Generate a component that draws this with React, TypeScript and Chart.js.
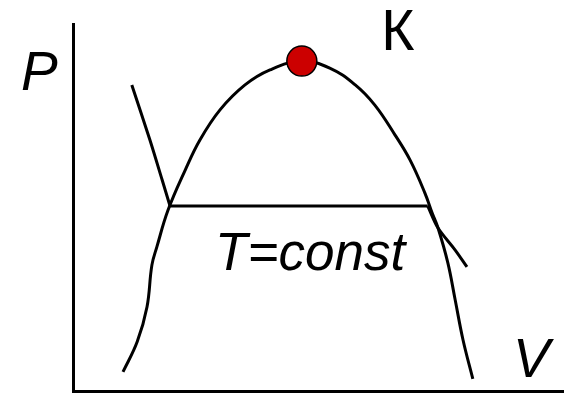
import React, { useEffect, useRef } from "react";
import { Chart, registerables } from "chart.js";

Chart.register(...registerables);

// Binodal (saturation dome) in V–P units
const domeV = [1.02, 1.31, 1.51, 1.61, 1.71, 1.94, 2.29, 2.59, 3.0, 3.51, 4.02, 4.67, 5.24, 5.76, 6.16, 6.57, 6.88, 7.18, 7.33, 7.45, 7.65, 7.8, 7.96, 8.16];
const domeP = [0.52, 1.34, 2.29, 3.43, 3.92, 4.93, 6.02, 6.84, 7.66, 8.34, 8.75, 8.99, 8.8, 8.34, 7.79, 6.98, 6.29, 5.4, 4.85, 4.44, 3.49, 2.48, 1.39, 0.33];

// Isotherm T=const: liquid branch, plateau, gas branch
const isoLeftV = [1.2, 1.57, 1.82, 1.98];
const isoLeftP = [8.34, 6.84, 5.75, 5.04];
const plateauV = [1.98, 7.24];
const plateauP = [5.04, 5.04];
const isoRightV = [7.24, 7.45, 7.8, 8.04];
const isoRightP = [5.04, 4.44, 3.84, 3.38];

// Critical point K
const critV = [4.67];
const critP = [8.99];

// Text labels
const labelText = ["К", "P", "V", "T=const"];
const labelV = [6.29, -1.06, 8.98, 2.9];
const labelP = [9.29, 8.2, 0.38, 3.3];
const labelFont = [
  "normal 57px 'Liberation Sans'",
  "italic 55px 'Liberation Sans'",
  "italic 55px 'Liberation Sans'",
  "italic 53px 'Liberation Sans'",
];

const pts = (xs: number[], ys: number[]) => xs.map((x, i) => ({ x, y: ys[i] }));

const labelsPlugin = {
  id: "labels",
  afterDatasetsDraw(chart: any) {
    const { ctx, scales } = chart;
    ctx.save();
    ctx.fillStyle = "#000";
    ctx.textBaseline = "alphabetic";
    ctx.textAlign = "left";
    labelText.forEach((t, i) => {
      ctx.font = labelFont[i];
      ctx.fillText(t, scales.x.getPixelForValue(labelV[i]), scales.y.getPixelForValue(labelP[i]));
    });
    ctx.restore();
  },
};

export default function App() {
  const ref = useRef<HTMLCanvasElement>(null);
  useEffect(() => {
    document.body.style.margin = "0";
    document.body.style.overflow = "hidden";
    const line = (data: any, tension: number) => ({
      type: "line" as const,
      data,
      borderColor: "#000",
      borderWidth: 3,
      pointRadius: 0,
      tension,
      fill: false,
      order: 1,
    });
    const chart = new Chart(ref.current!, {
      type: "scatter",
      data: {
        datasets: [
          {
            type: "scatter" as const,
            data: pts(critV, critP),
            pointRadius: 15,
            backgroundColor: "#cc0000",
            borderColor: "#000",
            borderWidth: 1.5,
            order: 0,
          },
          line(pts(domeV, domeP), 0.4),
          line(pts(isoLeftV, isoLeftP), 0.3),
          line(pts(plateauV, plateauP), 0),
          line(pts(isoRightV, isoRightP), 0.3),
        ] as any,
      },
      options: {
        animation: false,
        responsive: false,
        devicePixelRatio: 1,
        layout: { autoPadding: false, padding: { left: 73, top: 24, right: 4, bottom: 5 } },
        plugins: { legend: { display: false }, tooltip: { enabled: false } },
        scales: {
          x: {
            type: "linear",
            min: 0,
            max: 10,
            grid: { display: false },
            ticks: { display: false, padding: 0 },
            border: { display: true, color: "#000", width: 3 },
            afterFit: (s: any) => {
              s.height = 0;
              s.paddingLeft = 0;
              s.paddingRight = 0;
            },
          },
          y: {
            type: "linear",
            min: 0,
            max: 10,
            grid: { display: false },
            ticks: { display: false, padding: 0 },
            border: { display: true, color: "#000", width: 3 },
            afterFit: (s: any) => {
              s.width = 0;
              s.paddingTop = 0;
              s.paddingBottom = 0;
            },
          },
        },
      },
      plugins: [labelsPlugin],
    });
    return () => chart.destroy();
  }, []);
  return (
    <div style={{ position: "absolute", left: 0, top: 0, width: 567, height: 396, overflow: "hidden", background: "#fff" }}>
      <canvas ref={ref} width={567} height={396} style={{ display: "block", width: 567, height: 396 }} />
    </div>
  );
}
